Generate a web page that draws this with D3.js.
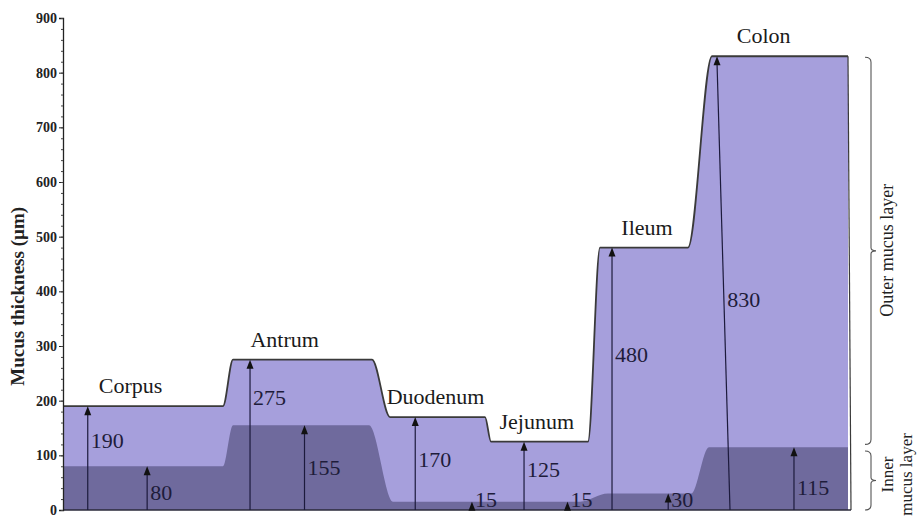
<!DOCTYPE html>
<html>
<head>
<meta charset="utf-8">
<script src="https://cdn.jsdelivr.net/npm/d3@7"></script>
<style>
  html, body { margin: 0; padding: 0; background: #fff; }
  svg text { font-family: "Liberation Serif", "DejaVu Serif", serif; }
</style>
</head>
<body>
<svg id="chart" width="917" height="518"></svg>
<script>
// data
const segments = ['Corpus', 'Antrum', 'Duodenum', 'Jejunum', 'Ileum', 'Colon'];
const totalThickness = [190, 275, 170, 125, 480, 830];
const innerThickness = [80, 155, 15, 15, 30, 115];
const segmentLengths = [165, 153, 107, 106, 106, 148];
const yTickValues = [0, 100, 200, 300, 400, 500, 600, 700, 800, 900];
const outerLayerLabel = 'Outer mucus layer';
const innerLayerLabel = ['Inner', 'mucus layer'];

// layout
const serif = '"Liberation Serif", "DejaVu Serif", serif';
const colors = { outer: '#a69fdc', inner: '#6f6a9d', line: '#3a3a3a', arrow: '#1c1a3c' };
const outerRamp = [5, 9, 3, 6, 12];
const innerRamp = [5, 12, 3, 14, 9];
const outerArrowAt = [0.15, 0.144, 0.32, 0.34, 0.17, 0.115];
const innerArrowAt = [0.51, 0.5, 0.85, 0.75, 0.7, 0.635];
const outerLabelAt = [113, 192, 79, 60, 271, 371];
const innerLabelAt = [18, 64, 5, 5, 5, 27];
const nameAt = [0.41, 0.37, 0.51, 0.46, 0.5, 0.43];
const arrowLean = [0, 0, 0, 0, 0, 13];

const bounds = [0];
segmentLengths.forEach(l => bounds.push(bounds[bounds.length - 1] + l));
const total = bounds[bounds.length - 1];

const svg = d3.select('#chart').attr('font-family', serif);

const x = d3.scaleLinear().domain([0, total]).range([63, 848]);
const y = d3.scaleLinear().domain([0, 900]).range([510, 18]);

const profile = (values, ramps) => {
  const pts = [[0, values[0]]];
  values.forEach((v, i) => {
    if (i < values.length - 1) {
      const b = bounds[i + 1];
      pts.push([b - ramps[i], v], [b + ramps[i], values[i + 1]]);
    }
  });
  pts.push([total, values[values.length - 1]]);
  return pts;
};

const area = d3.area()
  .x(d => x(d[0]))
  .y0(y(0))
  .y1(d => y(d[1]))
  .curve(d3.curveMonotoneX);

const line = d3.line()
  .x(d => x(d[0]))
  .y(d => y(d[1]))
  .curve(d3.curveMonotoneX);

const outerPts = profile(totalThickness, outerRamp);
const innerPts = profile(innerThickness, innerRamp);

svg.append('path').attr('d', area(outerPts)).attr('fill', colors.outer);
svg.append('path').attr('d', area(innerPts)).attr('fill', colors.inner);

svg.append('path')
  .attr('d', line(outerPts))
  .attr('fill', 'none')
  .attr('stroke', colors.line)
  .attr('stroke-width', 1.8);

// right edge of colon
svg.append('line')
  .attr('x1', x(total)).attr('y1', y(totalThickness[5]))
  .attr('x2', x(total) + 3).attr('y2', y(0))
  .attr('stroke', colors.line).attr('stroke-width', 1.2);

// baseline
svg.append('line')
  .attr('x1', x(0)).attr('x2', x(total) + 3)
  .attr('y1', y(0)).attr('y2', y(0))
  .attr('stroke', '#2a2a3a').attr('stroke-width', 1.5);

// arrows
const arrows = [];
segments.forEach((s, i) => {
  arrows.push({ at: bounds[i] + outerArrowAt[i] * segmentLengths[i], value: totalThickness[i], label: outerLabelAt[i], lean: arrowLean[i] });
  arrows.push({ at: bounds[i] + innerArrowAt[i] * segmentLengths[i], value: innerThickness[i], label: innerLabelAt[i], lean: 0 });
});

const arrowG = svg.append('g')
  .selectAll('g')
  .data(arrows)
  .join('g');

arrowG.append('line')
  .attr('x1', d => x(d.at) + d.lean)
  .attr('y1', y(0))
  .attr('x2', d => x(d.at))
  .attr('y2', d => y(d.value) + 7)
  .attr('stroke', colors.arrow)
  .attr('stroke-width', 1.2);

arrowG.append('path')
  .attr('d', d => {
    const tx = x(d.at), ty = y(d.value);
    return `M${tx},${ty}L${tx - 3.5},${ty + 9}L${tx + 3.5},${ty + 9}Z`;
  })
  .attr('fill', '#111');

arrowG.append('text')
  .attr('x', d => x(d.at) + 3 + d.lean * (y(d.label) - y(d.value)) / (y(0) - y(d.value)))
  .attr('y', d => y(d.label))
  .attr('font-family', serif)
  .attr('font-size', 22)
  .attr('fill', '#1e1c3a')
  .text(d => d.value);

// segment names
svg.append('g')
  .selectAll('text')
  .data(segments)
  .join('text')
  .attr('x', (d, i) => x(bounds[i] + nameAt[i] * segmentLengths[i]))
  .attr('y', (d, i) => y(totalThickness[i]) - 13)
  .attr('text-anchor', 'middle')
  .attr('font-family', serif)
  .attr('font-size', 22)
  .attr('fill', '#1a1a1a')
  .text(d => d);

// y axis
const yAxis = svg.append('g')
  .attr('transform', `translate(${x(0)},0)`)
  .call(d3.axisLeft(y).tickValues(yTickValues).tickSize(4).tickPadding(2));

yAxis.select('.domain').attr('stroke', '#222').attr('stroke-width', 1.3);
yAxis.selectAll('.tick line').attr('stroke', '#222');
yAxis.selectAll('text')
  .attr('font-family', serif)
  .attr('font-weight', 'bold')
  .attr('font-size', 14)
  .attr('fill', '#222');

svg.append('g')
  .attr('transform', `translate(${x(0)},0)`)
  .call(d3.axisLeft(y).tickValues(d3.range(0, 901, 20)).tickSize(2).tickFormat(''))
  .call(g => g.select('.domain').remove())
  .selectAll('.tick line').attr('stroke', '#444');

svg.append('text')
  .attr('transform', `translate(24,${(y(200) + y(600)) / 2 + 5}) rotate(-90)`)
  .attr('text-anchor', 'middle')
  .attr('font-family', serif)
  .attr('font-weight', 'bold')
  .attr('font-size', 19)
  .attr('fill', '#222')
  .text('Mucus thickness (\u00b5m)');

// layer brackets on the right
const bracket = (top, bottom, bx) => {
  const mid = (top + bottom) / 2;
  return `M${bx - 6},${top}Q${bx},${top} ${bx},${top + 5}L${bx},${mid - 3}Q${bx},${mid} ${bx + 5},${mid}` +
    `Q${bx},${mid} ${bx},${mid + 3}L${bx},${bottom - 5}Q${bx},${bottom} ${bx - 6},${bottom}`;
};

const bracketG = svg.append('g')
  .attr('fill', 'none')
  .attr('stroke', '#555')
  .attr('stroke-width', 1.1);

bracketG.append('path').attr('d', bracket(y(totalThickness[5]) + 1, y(120), 871));
bracketG.append('path').attr('d', bracket(y(108), y(0), 871));

svg.append('text')
  .attr('transform', `translate(893,${(y(totalThickness[5]) + y(120)) / 2}) rotate(-90)`)
  .attr('text-anchor', 'middle')
  .attr('font-family', serif)
  .attr('font-size', 18)
  .attr('fill', '#222')
  .text(outerLayerLabel);

svg.append('g')
  .selectAll('text')
  .data(innerLayerLabel)
  .join('text')
  .attr('transform', (d, i) => `translate(${893 + i * 19},${(y(108) + y(0)) / 2 - 6}) rotate(-90)`)
  .attr('text-anchor', 'middle')
  .attr('font-family', serif)
  .attr('font-size', 17)
  .attr('fill', '#222')
  .text(d => d);
</script>
</body>
</html>
